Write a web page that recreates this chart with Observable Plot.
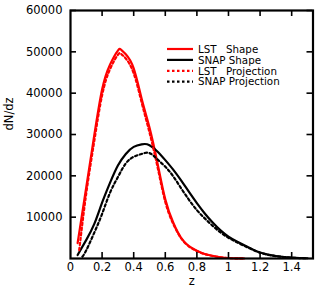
<!DOCTYPE html>
<html>
<head>
<meta charset="utf-8">
<script src="https://cdn.jsdelivr.net/npm/d3@7"></script>
<script src="https://cdn.jsdelivr.net/npm/@observablehq/plot@0.6"></script>
<style>
  html, body { margin: 0; padding: 0; background: white; }
  #wrap { position: relative; width: 315px; height: 291px; }
  #legend { position: absolute; left: 0; top: 0; }
</style>
</head>
<body>
<div id="wrap"></div>
<script>
// ---- data ----
const lstShapeZ = [0.045, 0.1, 0.15, 0.2, 0.25, 0.3, 0.32, 0.35, 0.4, 0.45, 0.5, 0.55, 0.6, 0.65, 0.7, 0.75, 0.8, 0.85, 0.9, 0.95, 1.0, 1.05, 1.1];
const lstShapeN = [3700, 17300, 29700, 40900, 46900, 50300, 50500, 49400, 46000, 38700, 31700, 23200, 14300, 8700, 5000, 3000, 1900, 1100, 650, 300, 120, 40, 0];

const lstProjZ = [0.055, 0.1, 0.15, 0.2, 0.25, 0.3, 0.32, 0.35, 0.4, 0.45, 0.5, 0.55, 0.6, 0.65, 0.7, 0.75, 0.8, 0.85, 0.9, 0.95, 1.0, 1.05, 1.1];
const lstProjN = [2000, 15800, 28300, 39500, 45800, 49300, 49500, 48400, 44800, 37800, 30500, 22300, 13700, 8400, 4900, 2900, 1800, 1050, 600, 280, 110, 35, 0];

const snapShapeZ = [0.045, 0.1, 0.15, 0.2, 0.25, 0.3, 0.35, 0.4, 0.45, 0.47, 0.5, 0.55, 0.6, 0.65, 0.7, 0.75, 0.8, 0.85, 0.9, 0.95, 1.0, 1.05, 1.1, 1.15, 1.2, 1.25, 1.3, 1.35, 1.4, 1.45, 1.5];
const snapShapeN = [840, 4500, 8300, 13500, 18300, 22500, 25300, 27000, 27600, 27700, 27400, 25900, 23800, 21500, 18900, 16100, 13400, 10900, 8700, 6800, 5300, 4200, 3200, 2250, 1450, 950, 600, 370, 220, 120, 60];

const snapProjZ = [0.075, 0.1, 0.15, 0.2, 0.25, 0.3, 0.35, 0.4, 0.45, 0.5, 0.55, 0.6, 0.65, 0.7, 0.75, 0.8, 0.85, 0.9, 0.95, 1.0, 1.05, 1.1, 1.15, 1.2, 1.25, 1.3, 1.35, 1.4, 1.45, 1.5];
const snapProjN = [430, 2000, 6200, 10800, 15900, 19700, 23000, 24600, 25300, 25500, 24000, 22200, 19900, 17000, 14200, 11700, 9700, 7900, 6300, 5000, 4000, 3050, 2200, 1400, 900, 570, 350, 200, 110, 50];

const seriesNames = ["LST  Shape", "SNAP Shape", "LST  Projection", "SNAP Projection"];
const seriesColors = ["#ff0000", "#000000", "#ff0000", "#000000"];
const seriesDash = [null, null, "2.5,2.5", "2.5,2.5"];

const xTickValues = [0, 0.2, 0.4, 0.6, 0.8, 1, 1.2, 1.4];
const yTickValues = [10000, 20000, 30000, 40000, 50000, 60000];
const xLabel = "z";
const yLabel = "dN/dz";

// ---- build tables ----
const zs = [lstShapeZ, snapShapeZ, lstProjZ, snapProjZ];
const ns = [lstShapeN, snapShapeN, lstProjN, snapProjN];
const rows = [];
seriesNames.forEach((name, i) => {
  zs[i].forEach((z, j) => rows.push({series: name, idx: i, z, n: ns[i][j]}));
});

const W = 315, H = 291, ML = 70, MR = 2.5, MT = 10, MB = 33;
const innerW = W - ML - MR, innerH = H - MT - MB;
const tickLen = 6;

const lineMarks = [0, 1, 2, 3].map(i =>
  Plot.line(rows.filter(r => r.idx === i), {
    x: "z", y: "n", stroke: seriesColors[i], strokeWidth: 2.2,
    strokeDasharray: seriesDash[i] || undefined, curve: "natural"
  })
);

const chart = Plot.plot({
  width: W, height: H,
  marginLeft: ML, marginRight: MR, marginTop: MT, marginBottom: MB,
  x: {domain: [0, 1.535]},
  y: {domain: [0, 60000]},
  style: {fontFamily: "DejaVu Sans", fontSize: "11.5px", background: "white", color: "black"},
  marks: [
    ...lineMarks,
    Plot.tickX(xTickValues.filter(d => d > 0), {x: d => d, insetTop: innerH - tickLen, strokeWidth: 1.6}),
    Plot.tickX(xTickValues.filter(d => d > 0), {x: d => d, insetBottom: innerH - tickLen, strokeWidth: 1.6}),
    Plot.tickY(yTickValues, {y: d => d, insetLeft: innerW - tickLen, strokeWidth: 1.6}),
    Plot.tickY(yTickValues, {y: d => d, insetRight: innerW - tickLen, strokeWidth: 1.6}),
    Plot.frame({strokeWidth: 2.2}),
    Plot.axisX(xTickValues, {tickSize: 0, tickPadding: 4, tickFormat: d => String(d), label: null, fontSize: 11.5}),
    Plot.axisY(yTickValues, {tickSize: 0, tickPadding: 8, tickFormat: d3.format("d"), label: null, fontSize: 11.5}),
    Plot.text([xLabel], {text: d => d, frameAnchor: "bottom", dy: 26.5, fontSize: 11.5}),
    Plot.text([yLabel], {text: d => d, frameAnchor: "left", dx: -61, dy: -4, rotate: -90, fontSize: 11.5})
  ]
});

const wrap = document.getElementById("wrap");
wrap.appendChild(chart);

// ---- legend overlay ----
const leg = d3.select(wrap).append("svg").attr("id", "legend")
  .attr("width", W).attr("height", H)
  .style("font-family", "DejaVu Sans").style("font-size", "10.3px");
seriesNames.forEach((name, i) => {
  const y = 49 + i * 10.9;
  leg.append("line").attr("x1", 167).attr("x2", 193).attr("y1", y).attr("y2", y)
    .attr("stroke", seriesColors[i]).attr("stroke-width", 2.2)
    .attr("stroke-dasharray", seriesDash[i]);
  const t = leg.append("text").attr("x", 198).attr("y", y).attr("dy", "0.36em")
    .style("white-space", "pre").attr("fill", "black");
  if (name.startsWith("LST")) {
    const k = name.search(/\S+$/);
    t.append("tspan").text(name.slice(0, k));
    t.append("tspan").attr("x", 226).text(name.slice(k));
  } else {
    t.text(name);
  }
});
</script>
</body>
</html>
